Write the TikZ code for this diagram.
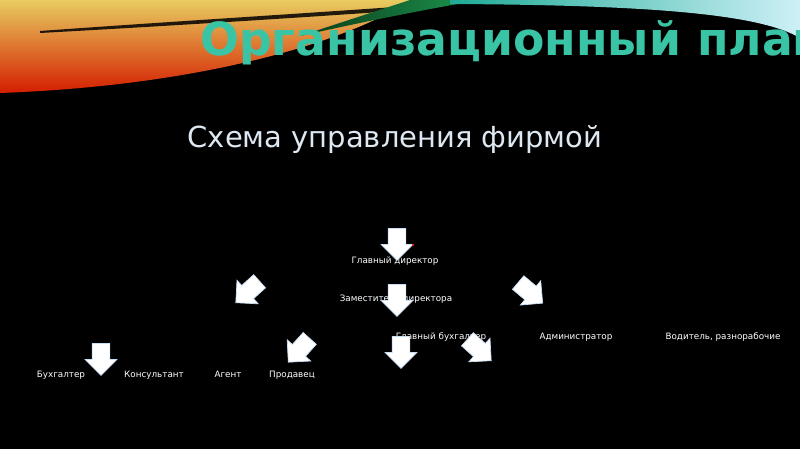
\documentclass[tikz,border=0pt]{standalone}
\usepackage{fontspec}
\setmainfont{DejaVu Sans}
\usetikzlibrary{shapes.arrows,positioning}
\definecolor{titlegreen}{RGB}{58,196,166}
\definecolor{subgray}{RGB}{222,232,242}
\definecolor{edgeblue}{RGB}{200,222,245}
\definecolor{warmtop}{RGB}{232,204,96}
\definecolor{warmmid}{RGB}{236,112,12}
\definecolor{warmbot}{RGB}{212,30,0}
\definecolor{darkgreen}{RGB}{8,60,24}
\definecolor{midgreen}{RGB}{30,150,80}
\definecolor{tealband}{RGB}{30,170,150}
\definecolor{cyanband}{RGB}{40,205,215}
\definecolor{palecyan}{RGB}{205,240,246}
\tikzset{>=latex}
\tikzset{
	lbl/.style={text=white, font=\fontsize{5}{6}\selectfont, inner sep=0pt, anchor=base},
	blk/.style={single arrow, fill=white, draw=edgeblue, line width=0.4pt,
		inner xsep=0pt, inner ysep=0.17cm,
		single arrow head extend=0.14cm, single arrow head indent=0pt,
		minimum height=0.64cm}
}

\begin{document}
\begin{tikzpicture}[x=0.02cm,y=-0.02cm]
		\useasboundingbox (0,0) rectangle (800,449);
		\clip (0,0) rectangle (800,449);
		\fill[black] (0,0) rectangle (800,449);
		% banner
		\shade[top color=warmtop, middle color=warmmid, bottom color=warmbot] (0,0) -- (410,0) .. controls (360,35) and (220,85) .. (0,93) -- cycle;
		\fill[black, opacity=0.85] (40,31) .. controls (150,23) and (280,15) .. (395,7) -- (395,11) .. controls (280,19) and (150,27) .. (40,33) -- cycle;
		\shade[left color=darkgreen, right color=midgreen] (300,36) -- (410,0) -- (480,0) .. controls (440,7) and (380,18) .. (300,36) -- cycle;
		\shade[left color=tealband, middle color=cyanband, right color=palecyan] (450,0) -- (800,0) -- (800,38) .. controls (760,14) and (650,5) .. (450,4) -- cycle;
		% titles
		\node[anchor=base west, inner sep=0pt, text=titlegreen, font=\fontsize{26}{30}\selectfont\bfseries] (title) at (200,56) {Организационный план};
		\node[anchor=base, inner sep=0pt, text=subgray, font=\fontsize{16.5}{20}\selectfont] (sub) at (395,148) {Схема управления фирмой};
		% posts
		\node[lbl] (gendir) at (395,263) {Главный директор};
		\node[lbl] (zam) at (396,301) {Заместитель директора};
		\node[lbl] (glbuh) at (441,339) {Главный бухгалтер};
		\node[lbl] (admin) at (576,339) {Администратор};
		\node[lbl] (vod) at (723,339) {Водитель, разнорабочие};
		\node[lbl] (buh) at (61,377) {Бухгалтер};
		\node[lbl] (kons) at (154,377) {Консультант};
		\node[lbl] (agent) at (228,377) {Агент};
		\node[lbl] (prod) at (292,377) {Продавец};
		% block arrows
		\node[blk, rotate=-90] (ar1) at (397,240) {};
		\node[blk, rotate=-90] (ar2) at (397,296) {};
		\node[blk, rotate=-138] (ar3) at (251,289) {};
		\node[blk, rotate=-40] (ar4) at (527,290) {};
		\node[blk, rotate=-90] (ar5) at (401,348) {};
		\node[blk, rotate=-42] (ar6) at (476,347) {};
		\node[blk, rotate=-132] (ar7) at (302,347) {};
		\node[blk, rotate=-90] (ar8) at (101,355) {};
		\fill[red] (413,245) circle (1.2);
	\end{tikzpicture}
\end{document}
